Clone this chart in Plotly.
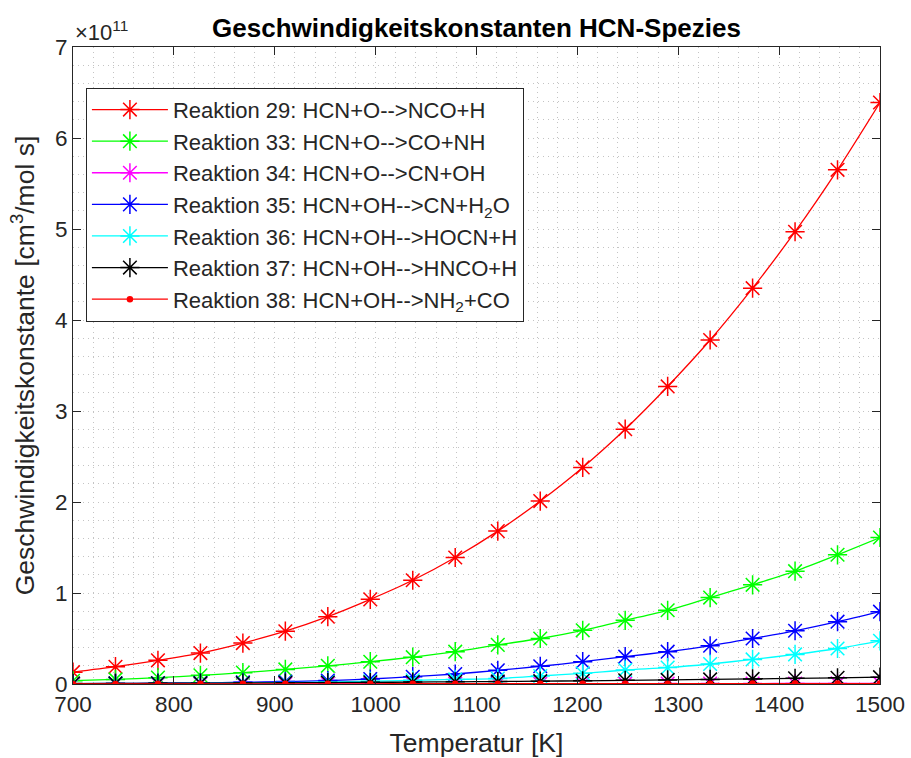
import plotly.graph_objects as go

# Temperature grid [K]
T = [700.0, 742.1, 784.2, 826.3, 868.4, 910.5, 952.6, 994.7, 1036.8, 1078.9,
     1121.1, 1163.2, 1205.3, 1247.4, 1289.5, 1331.6, 1373.7, 1415.8, 1457.9, 1500.0]

# Rate constants [cm^3/mol s]
k29 = [0.13e11, 0.19e11, 0.26e11, 0.34e11, 0.45e11, 0.58e11, 0.74e11, 0.93e11, 1.14e11, 1.39e11,
       1.68e11, 2.01e11, 2.38e11, 2.80e11, 3.27e11, 3.78e11, 4.35e11, 4.97e11, 5.65e11, 6.39e11]
k33 = [0.036e11, 0.05e11, 0.07e11, 0.095e11, 0.125e11, 0.16e11, 0.20e11, 0.245e11, 0.295e11, 0.355e11,
       0.43e11, 0.50e11, 0.59e11, 0.70e11, 0.81e11, 0.95e11, 1.09e11, 1.24e11, 1.42e11, 1.61e11]
k34 = [0.0005e11, 0.0006e11, 0.0008e11, 0.001e11, 0.0012e11, 0.0014e11, 0.0016e11, 0.0019e11, 0.0022e11, 0.0025e11,
       0.0028e11, 0.0031e11, 0.0035e11, 0.0039e11, 0.0043e11, 0.0047e11, 0.0051e11, 0.0055e11, 0.006e11, 0.0065e11]
k35 = [0.004e11, 0.006e11, 0.009e11, 0.013e11, 0.019e11, 0.027e11, 0.038e11, 0.055e11, 0.08e11, 0.11e11,
       0.15e11, 0.195e11, 0.245e11, 0.30e11, 0.355e11, 0.42e11, 0.50e11, 0.585e11, 0.685e11, 0.795e11]
k36 = [0.002e11, 0.003e11, 0.005e11, 0.008e11, 0.011e11, 0.016e11, 0.022e11, 0.03e11, 0.04e11, 0.05e11,
       0.06e11, 0.088e11, 0.117e11, 0.154e11, 0.18e11, 0.22e11, 0.27e11, 0.325e11, 0.39e11, 0.475e11]
k37 = [0.005e11, 0.006e11, 0.008e11, 0.009e11, 0.011e11, 0.013e11, 0.016e11, 0.018e11, 0.021e11, 0.024e11,
       0.027e11, 0.031e11, 0.035e11, 0.04e11, 0.045e11, 0.05e11, 0.056e11, 0.062e11, 0.068e11, 0.075e11]
k38 = [0.001e11, 0.0012e11, 0.0014e11, 0.0016e11, 0.0018e11, 0.002e11, 0.0022e11, 0.0024e11, 0.0026e11, 0.0028e11,
       0.003e11, 0.0032e11, 0.0034e11, 0.0036e11, 0.0038e11, 0.004e11, 0.0042e11, 0.0044e11, 0.0046e11, 0.0048e11]

names = [
    "Reaktion 29: HCN+O-->NCO+H",
    "Reaktion 33: HCN+O-->CO+NH",
    "Reaktion 34: HCN+O-->CN+OH",
    "Reaktion 35: HCN+OH-->CN+H<sub>2</sub>O",
    "Reaktion 36: HCN+OH-->HOCN+H",
    "Reaktion 37: HCN+OH-->HNCO+H",
    "Reaktion 38: HCN+OH-->NH<sub>2</sub>+CO",
]
series = [k29, k33, k34, k35, k36, k37, k38]
colors = ["#FF0000", "#00FF00", "#FF00FF", "#0000FF", "#00FFFF", "#000000", "#FF0000"]
symbols = ["asterisk-open"] * 6 + ["circle"]

yticks = [0, 1, 2, 3, 4, 5, 6, 7]
xticks = [700, 800, 900, 1000, 1100, 1200, 1300, 1400, 1500]

AX = "#262626"
GRID = "#c4c4c4"
FONT = "Liberation Sans, Arial, sans-serif"

fig = go.Figure()
for name, ys, c, s in zip(names, series, colors, symbols):
    fig.add_trace(go.Scatter(
        x=T, y=ys, name=name, mode="lines+markers",
        line=dict(color=c, width=1.3, shape="spline", smoothing=0.8),
        marker=dict(symbol=s, size=16 if s != "circle" else 5, color=c,
                    line=dict(color=c, width=1.5)),
    ))

fig.update_layout(
    width=911, height=758,
    margin=dict(l=73, r=31, t=47, b=74),
    paper_bgcolor="white", plot_bgcolor="white",
    font=dict(family=FONT, size=22, color=AX),
    title=dict(text="<b>Geschwindigkeitskonstanten HCN-Spezies</b>",
               x=0.5, xref="paper", xanchor="center", y=0.963, yanchor="middle",
               font=dict(size=26, color="black")),
    legend=dict(x=0.016, y=0.936, xanchor="left", yanchor="top",
                bgcolor="white", bordercolor=AX, borderwidth=1,
                font=dict(size=22, color=AX), itemwidth=76,
                tracegroupgap=0),
    showlegend=True,
)

fig.update_xaxes(
    range=[700, 1500], tickvals=xticks, automargin=False,
    ticks="inside", ticklen=8, tickcolor=AX, showline=True, linecolor=AX, linewidth=1,
    mirror="ticks", zeroline=False,
    showgrid=True, gridcolor=GRID, griddash="1px,4px", gridwidth=1,
    minor=dict(dtick=20, showgrid=True, gridcolor=GRID, griddash="1px,4px", gridwidth=1, ticks=""),
    title=dict(text="Temperatur [K]", standoff=17, font=dict(size=26.5, color=AX)),
    tickfont=dict(size=22.5, color=AX),
)
fig.update_yaxes(
    range=[0, 7e11], tickvals=[v * 1e11 for v in yticks], ticktext=[str(v) for v in yticks],
    automargin=False,
    ticks="inside", ticklen=8, tickcolor=AX, showline=True, linecolor=AX, linewidth=1,
    mirror="ticks", zeroline=False,
    showgrid=True, gridcolor=GRID, griddash="1px,4px", gridwidth=1,
    minor=dict(dtick=0.2e11, tick0=0, showgrid=True, gridcolor=GRID, griddash="1px,4px", gridwidth=1, ticks=""),
    title=dict(text="Geschwindigkeitskonstante [cm<sup>3</sup>/mol s]", standoff=12,
               font=dict(size=26.5, color=AX)),
    tickfont=dict(size=22.5, color=AX),
)

# exponent label for the y axis
fig.add_annotation(text="\u00d710<sup>11</sup>", xref="paper", yref="paper",
                   x=0.0, y=1.0, xanchor="left", yanchor="bottom", showarrow=False,
                   font=dict(size=22, color=AX), xshift=0, yshift=0)

fig.write_html("out.html")
